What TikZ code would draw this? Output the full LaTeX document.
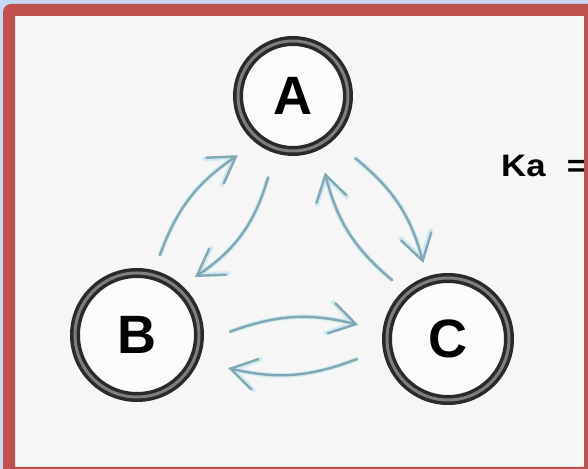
\documentclass[tikz,border=0pt]{standalone}
\usepackage{fontspec}
\setmainfont{Liberation Sans}
\usetikzlibrary{arrows.meta,calc}

\definecolor{pagebg}{HTML}{C6D9F1}
\definecolor{framered}{HTML}{C0504D}
\definecolor{paper}{HTML}{F6F6F6}
\definecolor{ringdark}{HTML}{2A2A2A}
\definecolor{ringmid}{HTML}{7E7E7E}
\definecolor{flowcore}{HTML}{82A8B4}
\definecolor{flowglow}{HTML}{D2E9F1}

\tikzset{
  state/.style={circle, draw=ringdark, line width=3.5bp, double=ringmid,
    double distance=3bp, fill=white!60!paper, inner sep=0pt,
    font=\fontsize{54bp}{54bp}\selectfont\bfseries},
  flow/.style={draw=flowcore, line width=2.4bp, line cap=round,
    -{Straight Barb[length=25bp,width=31bp,line cap=round]},
    preaction={draw=flowglow, line width=4.6bp}},
}

\begin{document}
\begin{tikzpicture}[x=1bp,y=1bp]
  \useasboundingbox (0,0) rectangle (588,469);
  % page and sheet
  \fill[pagebg] (0,0) rectangle (588,469);
  \fill[paper] (15,2) rectangle (584,453);

  % the three states
  \node[state, minimum size=110bp] (A) at (293,373) {A};
  \node[state, minimum size=124bp] (B) at (137,134) {B};
  \node[state, minimum size=122bp] (C) at (448,130) {C};

  % transitions between the states
  \draw[flow] ($(B)+(74:83)$)    to[bend left=18] ($(A)+(227:81)$);
  \draw[flow] ($(A)+(253:85)$)   to[bend left=20] ($(B)+(45:82)$);
  \draw[flow] ($(A)+(315:88)$)   to[bend left=18] ($(C)+(108:80)$);
  \draw[flow] ($(C)+(133.5:81)$) to[bend left=18] ($(A)+(292.6:83)$);
  \draw[flow] ($(B)+(2:93)$)     to[bend left=17] ($(C)+(171:91)$);
  \draw[flow] ($(C)+(192.4:93)$) to[bend left=17] ($(B)+(340:97)$);

  % rate label, running under the frame
  \node[anchor=base west, inner sep=0pt, xscale=1.12,
        font=\fontsize{31bp}{31bp}\selectfont\bfseries]
    (ka) at (501,292) {Ka\hspace{19bp}=};

  % red frame with rounded top-left corner
  \fill[framered, even odd rule]
    [rounded corners=8bp] (3,-20) -- (3,465) -- (620,465) -- (620,-20) -- cycle
    [sharp corners] (15,2) rectangle (584,453);
\end{tikzpicture}
\end{document}
